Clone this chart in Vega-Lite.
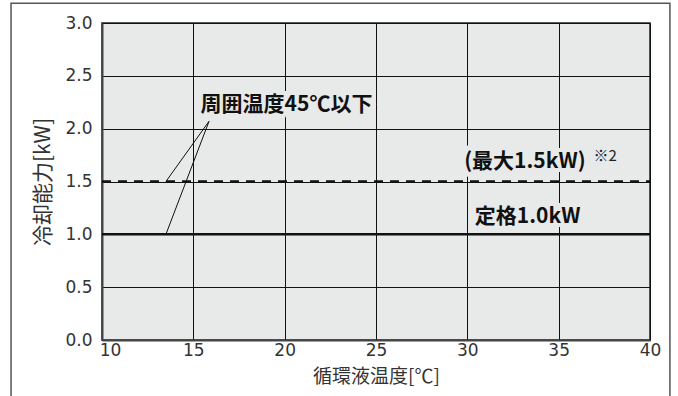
{
  "$schema": "https://vega.github.io/schema/vega-lite/v6.json",
  "width": 548,
  "height": 317,
  "autosize": {"type": "none"},
  "padding": {"left": 102, "top": 23, "right": 28, "bottom": 56},
  "background": "white",
  "config": {
    "view": {"stroke": "#222", "strokeWidth": 1.5, "fill": "#e8e9e9"},
    "font": "Noto Sans CJK JP"
  },
  "datasets": {
    "lines": [
      {"series": "最大", "temp": 10, "kw": 1.5},
      {"series": "最大", "temp": 40, "kw": 1.5},
      {"series": "定格", "temp": 10, "kw": 1.0},
      {"series": "定格", "temp": 40, "kw": 1.0}
    ],
    "leaders": [
      {"temp": 15.86, "kw": 2.07, "temp2": 13.5, "kw2": 1.5},
      {"temp": 15.86, "kw": 2.07, "temp2": 13.5, "kw2": 1.0}
    ],
    "labels": [
      {"label": "周囲温度45℃以下", "temp": 20.1, "kw": 2.22},
      {"label": "(最大1.5kW)", "temp": 33.15, "kw": 1.68},
      {"label": "定格1.0kW", "temp": 33.3, "kw": 1.16}
    ],
    "notes": [
      {"label": "※2", "temp": 37.55, "kw": 1.745}
    ]
  },
  "layer": [
    {
      "data": {"name": "lines"},
      "mark": {"type": "line", "strokeWidth": 2.5, "color": "#111"},
      "encoding": {
        "x": {
          "field": "temp", "type": "quantitative",
          "scale": {"domain": [10, 40], "nice": false, "zero": false},
          "title": "循環液温度[℃]",
          "axis": {
            "values": [10, 15, 20, 25, 30, 35, 40],
            "ticks": false,
            "labelFlush": false,
            "domainColor": "#444", "domainWidth": 2,
            "gridColor": "#111", "gridWidth": 1, "gridOpacity": 1,
            "labelFont": "DejaVu Sans",
            "labelFontSize": 17, "labelColor": "#333", "labelPadding": 2,
            "labelOffset": {"condition": {"test": "datum.value == 10", "value": 8}, "value": 0},
            "titleFontSize": 19, "titleFontWeight": "normal", "titleColor": "#333", "titlePadding": 9
          }
        },
        "y": {
          "field": "kw", "type": "quantitative",
          "scale": {"domain": [0, 3], "nice": false},
          "title": "冷却能力[kW]",
          "axis": {
            "values": [0, 0.5, 1, 1.5, 2, 2.5, 3],
            "format": ".1f",
            "ticks": false,
            "labelFlush": false,
            "domainColor": "#444", "domainWidth": 2,
            "gridColor": "#111", "gridWidth": 1, "gridOpacity": 1,
            "labelFont": "DejaVu Sans",
            "labelFontSize": 17, "labelColor": "#333", "labelPadding": 10,
            "titleFontSize": 21, "titleFontWeight": "normal", "titleColor": "#333", "titlePadding": 11
          }
        },
        "strokeDash": {
          "field": "series", "type": "nominal",
          "scale": {"domain": ["最大", "定格"], "range": [[9, 7], [1, 0]]},
          "legend": null
        }
      }
    },
    {
      "data": {"name": "leaders"},
      "mark": {"type": "rule", "strokeWidth": 1, "color": "#111"},
      "encoding": {
        "x": {"field": "temp", "type": "quantitative"},
        "y": {"field": "kw", "type": "quantitative"},
        "x2": {"field": "temp2"},
        "y2": {"field": "kw2"}
      }
    },
    {
      "data": {"name": "labels"},
      "mark": {"type": "text", "fontSize": 21, "fontWeight": "bold", "align": "center", "baseline": "middle", "color": "#e8e9e9", "stroke": "#e8e9e9", "strokeWidth": 8},
      "encoding": {
        "x": {"field": "temp", "type": "quantitative"},
        "y": {"field": "kw", "type": "quantitative"},
        "text": {"field": "label"}
      }
    },
    {
      "data": {"name": "labels"},
      "mark": {"type": "text", "fontSize": 21, "fontWeight": "bold", "align": "center", "baseline": "middle", "color": "#111"},
      "encoding": {
        "x": {"field": "temp", "type": "quantitative"},
        "y": {"field": "kw", "type": "quantitative"},
        "text": {"field": "label"}
      }
    },
    {
      "data": {"name": "notes"},
      "mark": {"type": "text", "fontSize": 15, "align": "center", "baseline": "middle", "color": "#222"},
      "encoding": {
        "x": {"field": "temp", "type": "quantitative"},
        "y": {"field": "kw", "type": "quantitative"},
        "text": {"field": "label"}
      }
    },
    {
      "data": {"values": [{}]},
      "mark": {"type": "rect", "fill": "transparent", "stroke": "#555", "strokeWidth": 1.5, "clip": false},
      "encoding": {
        "x": {"datum": 5.02, "type": "quantitative"},
        "x2": {"datum": 41.09},
        "y": {"datum": 3.187, "type": "quantitative"},
        "y2": {"datum": -1}
      }
    }
  ]
}
